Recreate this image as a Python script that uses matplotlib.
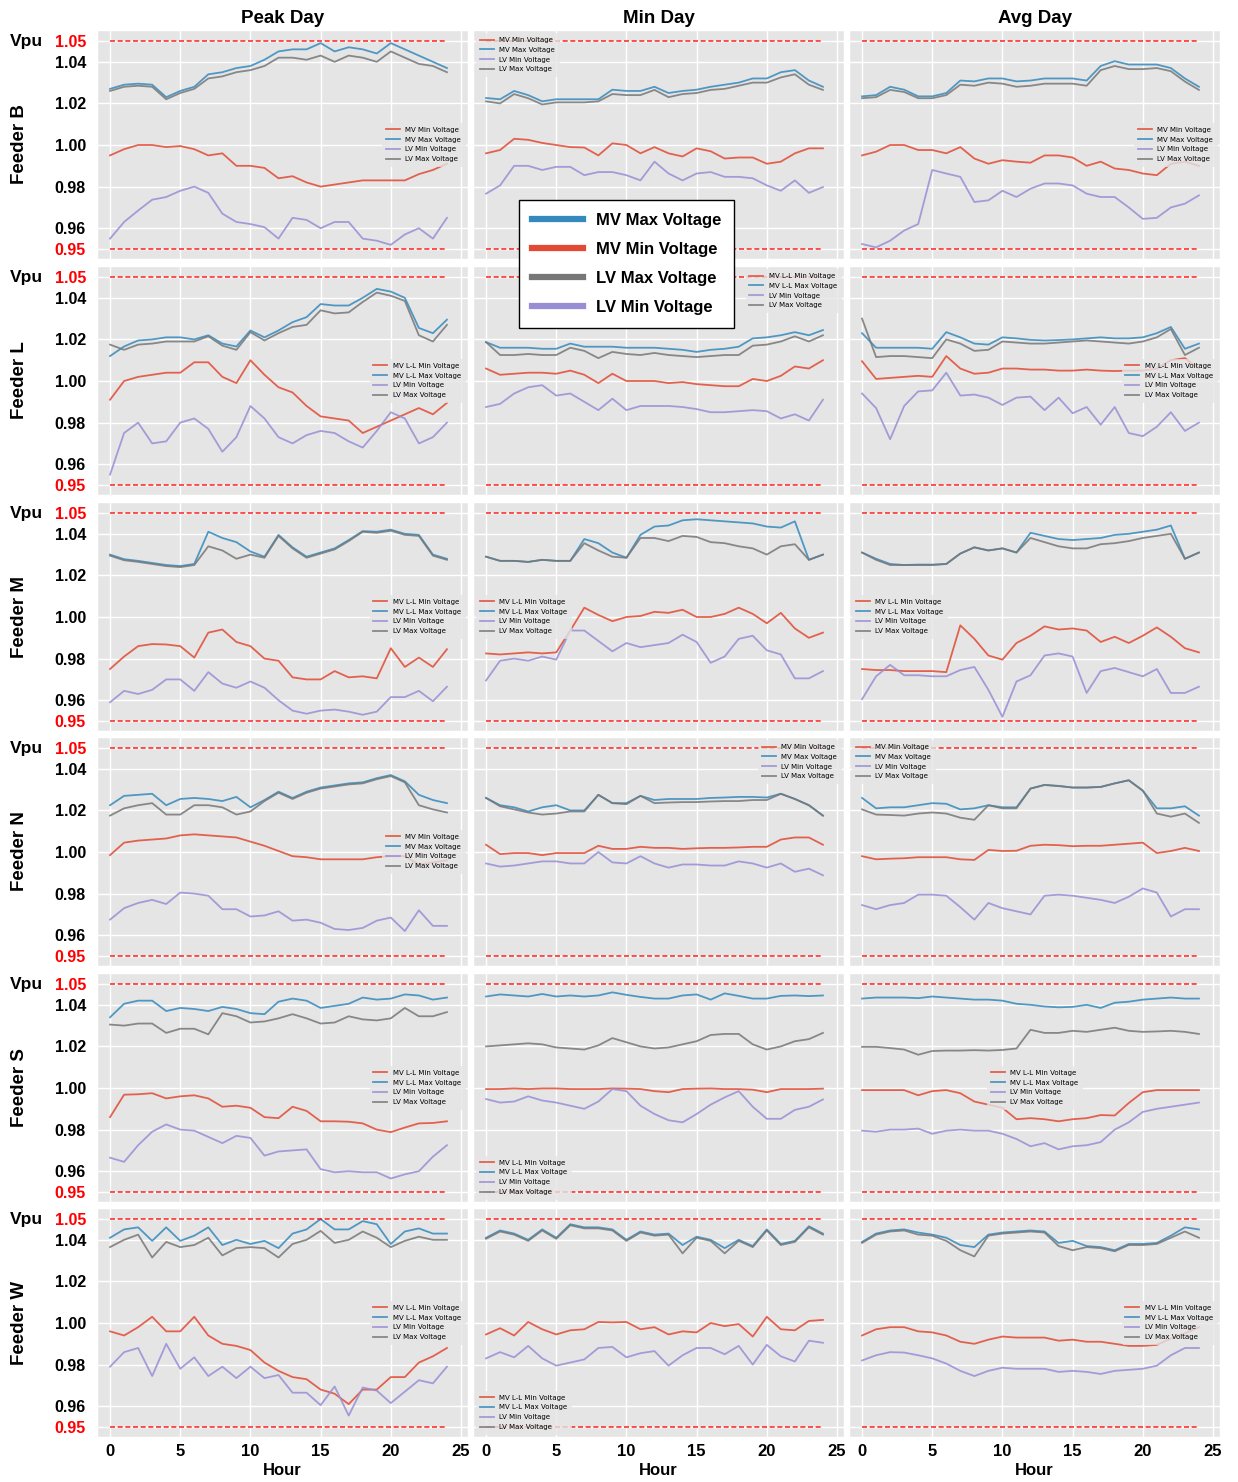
import numpy as np
import matplotlib
matplotlib.use('Agg')
import matplotlib.pyplot as plt
import matplotlib.transforms as mtransforms
from matplotlib.lines import Line2D

plt.style.use('ggplot')
plt.rcParams['font.family'] = ['Liberation Sans', 'DejaVu Sans']

hours = np.arange(25)

# ---- Feeder B ----
B_PEAK_MV_MIN = [0.995, 0.998, 1.000, 1.000, 0.999, 0.9995, 0.998, 0.995, 0.996, 0.990, 0.990, 0.989, 0.984, 0.985, 0.982, 0.980, 0.981, 0.982, 0.983, 0.983, 0.983, 0.983, 0.986, 0.988, 0.991]
B_PEAK_MV_MAX = [1.027, 1.029, 1.0295, 1.029, 1.023, 1.026, 1.028, 1.034, 1.035, 1.037, 1.038, 1.041, 1.045, 1.046, 1.046, 1.049, 1.045, 1.047, 1.046, 1.044, 1.049, 1.046, 1.043, 1.040, 1.037]
B_PEAK_LV_MIN = [0.955, 0.963, 0.9685, 0.9737, 0.975, 0.978, 0.980, 0.977, 0.967, 0.963, 0.962, 0.9605, 0.955, 0.965, 0.964, 0.960, 0.963, 0.963, 0.955, 0.954, 0.952, 0.957, 0.960, 0.955, 0.965]
B_PEAK_LV_MAX = [1.026, 1.028, 1.0285, 1.028, 1.022, 1.025, 1.027, 1.032, 1.033, 1.035, 1.036, 1.038, 1.042, 1.042, 1.041, 1.043, 1.040, 1.043, 1.042, 1.040, 1.045, 1.042, 1.039, 1.038, 1.035]

B_MIN_MV_MIN = [0.996, 0.9976, 1.003, 1.0025, 1.001, 1.000, 0.999, 0.9988, 0.995, 1.0008, 1.000, 0.996, 0.999, 0.996, 0.9945, 0.9984, 0.997, 0.9935, 0.994, 0.994, 0.991, 0.992, 0.996, 0.9984, 0.9984]
B_MIN_MV_MAX = [1.0226, 1.022, 1.026, 1.024, 1.021, 1.022, 1.022, 1.022, 1.022, 1.0266, 1.026, 1.026, 1.028, 1.025, 1.026, 1.0266, 1.028, 1.029, 1.030, 1.032, 1.032, 1.035, 1.036, 1.031, 1.028]
B_MIN_LV_MIN = [0.9766, 0.9806, 0.990, 0.990, 0.988, 0.9895, 0.9895, 0.9855, 0.987, 0.987, 0.9855, 0.983, 0.992, 0.9863, 0.983, 0.9863, 0.987, 0.9847, 0.9847, 0.984, 0.9806, 0.978, 0.983, 0.977, 0.9798]
B_MIN_LV_MAX = [1.021, 1.020, 1.0245, 1.0225, 1.0195, 1.0205, 1.0205, 1.0205, 1.021, 1.0245, 1.024, 1.024, 1.0265, 1.023, 1.0245, 1.025, 1.0265, 1.027, 1.0285, 1.030, 1.030, 1.0325, 1.034, 1.029, 1.0265]

B_AVG_MV_MIN = [0.995, 0.9968, 1.000, 1.000, 0.9976, 0.9976, 0.996, 0.999, 0.9935, 0.991, 0.9927, 0.992, 0.9915, 0.995, 0.995, 0.994, 0.990, 0.992, 0.9887, 0.988, 0.9863, 0.9855, 0.991, 0.992, 0.990]
B_AVG_MV_MAX = [1.0234, 1.024, 1.028, 1.0266, 1.0234, 1.0234, 1.025, 1.031, 1.0306, 1.032, 1.032, 1.0306, 1.031, 1.032, 1.032, 1.032, 1.031, 1.038, 1.0403, 1.0387, 1.0387, 1.0387, 1.037, 1.032, 1.028]
B_AVG_LV_MIN = [0.9524, 0.9508, 0.954, 0.9589, 0.962, 0.988, 0.9863, 0.9847, 0.9726, 0.9734, 0.978, 0.975, 0.979, 0.9815, 0.9815, 0.9806, 0.9766, 0.975, 0.975, 0.970, 0.9645, 0.965, 0.970, 0.9718, 0.9758]
B_AVG_LV_MAX = [1.0225, 1.023, 1.0265, 1.0255, 1.0225, 1.0225, 1.024, 1.029, 1.0285, 1.030, 1.0295, 1.028, 1.0285, 1.0295, 1.0295, 1.0295, 1.0285, 1.036, 1.038, 1.0365, 1.0365, 1.037, 1.0355, 1.0305, 1.0265]

# ---- Feeder L ----
L_PEAK_MV_MIN = [0.991, 1.000, 1.002, 1.003, 1.004, 1.004, 1.009, 1.009, 1.002, 0.999, 1.010, 1.003, 0.997, 0.9945, 0.988, 0.983, 0.982, 0.981, 0.975, 0.978, 0.981, 0.984, 0.987, 0.984, 0.9895]
L_PEAK_MV_MAX = [1.012, 1.0166, 1.0195, 1.020, 1.021, 1.021, 1.020, 1.022, 1.018, 1.0166, 1.0243, 1.021, 1.0243, 1.0283, 1.0307, 1.037, 1.0363, 1.0363, 1.040, 1.0443, 1.043, 1.040, 1.0255, 1.023, 1.0295]
L_PEAK_LV_MIN = [0.955, 0.975, 0.980, 0.970, 0.971, 0.980, 0.982, 0.977, 0.966, 0.973, 0.988, 0.982, 0.973, 0.970, 0.974, 0.976, 0.975, 0.971, 0.968, 0.976, 0.985, 0.982, 0.970, 0.973, 0.980]
L_PEAK_LV_MAX = [1.0175, 1.015, 1.0175, 1.018, 1.019, 1.019, 1.019, 1.0215, 1.017, 1.015, 1.0235, 1.0195, 1.023, 1.026, 1.027, 1.034, 1.0325, 1.033, 1.038, 1.0425, 1.041, 1.0385, 1.022, 1.019, 1.027]

L_MIN_MV_MIN = [1.006, 1.003, 1.0035, 1.004, 1.004, 1.0035, 1.005, 1.003, 0.999, 1.0035, 1.000, 1.000, 1.000, 0.999, 0.9995, 0.9985, 0.998, 0.9975, 0.9975, 1.001, 1.000, 1.0025, 1.007, 1.006, 1.010]
L_MIN_MV_MAX = [1.0187, 1.016, 1.016, 1.016, 1.0155, 1.0155, 1.018, 1.0165, 1.0165, 1.0165, 1.016, 1.016, 1.016, 1.0155, 1.015, 1.014, 1.015, 1.0155, 1.0165, 1.0205, 1.021, 1.022, 1.0235, 1.022, 1.0245]
L_MIN_LV_MIN = [0.9875, 0.989, 0.994, 0.997, 0.998, 0.993, 0.994, 0.990, 0.986, 0.9915, 0.986, 0.988, 0.988, 0.988, 0.9875, 0.9865, 0.985, 0.985, 0.9855, 0.986, 0.9855, 0.982, 0.984, 0.981, 0.991]
L_MIN_LV_MAX = [1.0187, 1.0125, 1.0125, 1.013, 1.0125, 1.0125, 1.016, 1.0145, 1.011, 1.014, 1.013, 1.0125, 1.0135, 1.0125, 1.012, 1.0115, 1.012, 1.0125, 1.0125, 1.017, 1.0175, 1.019, 1.0215, 1.019, 1.022]

L_AVG_MV_MIN = [1.0095, 1.001, 1.0015, 1.002, 1.0025, 1.002, 1.012, 1.006, 1.0035, 1.004, 1.006, 1.006, 1.0055, 1.0055, 1.005, 1.005, 1.0055, 1.005, 1.0048, 1.005, 1.005, 1.006, 1.010, 1.011, 1.006]
L_AVG_MV_MAX = [1.023, 1.016, 1.016, 1.016, 1.016, 1.0155, 1.0235, 1.021, 1.018, 1.0175, 1.021, 1.0205, 1.0198, 1.0195, 1.0197, 1.020, 1.0205, 1.021, 1.0205, 1.0205, 1.021, 1.023, 1.026, 1.0155, 1.018]
L_AVG_LV_MIN = [0.994, 0.987, 0.972, 0.988, 0.995, 0.9955, 1.004, 0.993, 0.9935, 0.992, 0.9885, 0.992, 0.9925, 0.986, 0.992, 0.9845, 0.9875, 0.979, 0.9875, 0.975, 0.9735, 0.978, 0.985, 0.976, 0.980]
L_AVG_LV_MAX = [1.030, 1.0115, 1.012, 1.012, 1.0115, 1.011, 1.020, 1.018, 1.0145, 1.015, 1.019, 1.0185, 1.018, 1.018, 1.0185, 1.019, 1.0195, 1.019, 1.0185, 1.018, 1.019, 1.021, 1.025, 1.0125, 1.016]

# ---- Feeder M ----
M_PEAK_MV_MIN = [0.975, 0.981, 0.986, 0.987, 0.9868, 0.986, 0.9805, 0.9925, 0.994, 0.988, 0.986, 0.980, 0.979, 0.971, 0.970, 0.970, 0.974, 0.971, 0.9715, 0.9705, 0.985, 0.976, 0.9805, 0.976, 0.9845]
M_PEAK_MV_MAX = [1.030, 1.0278, 1.027, 1.026, 1.025, 1.0245, 1.0255, 1.041, 1.038, 1.036, 1.0315, 1.029, 1.0395, 1.0335, 1.029, 1.031, 1.033, 1.037, 1.0413, 1.041, 1.042, 1.040, 1.0395, 1.030, 1.028]
M_PEAK_LV_MIN = [0.959, 0.9645, 0.963, 0.965, 0.970, 0.970, 0.9645, 0.9735, 0.968, 0.966, 0.969, 0.966, 0.960, 0.955, 0.9535, 0.955, 0.9555, 0.9545, 0.953, 0.9545, 0.9615, 0.9615, 0.9645, 0.9595, 0.9665]
M_PEAK_LV_MAX = [1.0295, 1.0273, 1.0265, 1.0255, 1.0245, 1.024, 1.025, 1.034, 1.032, 1.028, 1.030, 1.0285, 1.039, 1.033, 1.0285, 1.0305, 1.0325, 1.0365, 1.041, 1.0405, 1.0415, 1.0395, 1.039, 1.0295, 1.0275]

M_MIN_MV_MIN = [0.9825, 0.982, 0.9825, 0.983, 0.9825, 0.983, 0.9935, 1.0045, 1.001, 0.998, 1.000, 1.0005, 1.0025, 1.002, 1.0035, 1.000, 1.000, 1.0015, 1.0045, 1.0015, 0.997, 1.002, 0.9945, 0.990, 0.9925]
M_MIN_MV_MAX = [1.029, 1.027, 1.027, 1.0265, 1.0275, 1.027, 1.027, 1.0375, 1.0355, 1.031, 1.0285, 1.0395, 1.0435, 1.044, 1.0465, 1.047, 1.0465, 1.046, 1.0455, 1.045, 1.0435, 1.043, 1.046, 1.0275, 1.030]
M_MIN_LV_MIN = [0.9695, 0.979, 0.980, 0.979, 0.981, 0.9795, 0.9935, 0.9935, 0.9885, 0.9835, 0.9875, 0.9855, 0.9865, 0.9875, 0.9915, 0.988, 0.978, 0.981, 0.9895, 0.991, 0.984, 0.982, 0.9705, 0.9705, 0.974]
M_MIN_LV_MAX = [1.029, 1.027, 1.027, 1.0265, 1.0275, 1.027, 1.027, 1.0355, 1.032, 1.029, 1.0285, 1.038, 1.038, 1.0365, 1.039, 1.0385, 1.036, 1.0355, 1.034, 1.033, 1.030, 1.034, 1.035, 1.0275, 1.030]

M_AVG_MV_MIN = [0.975, 0.9745, 0.9745, 0.974, 0.974, 0.974, 0.9735, 0.996, 0.9895, 0.9815, 0.9795, 0.9875, 0.991, 0.9955, 0.994, 0.9945, 0.9935, 0.988, 0.9905, 0.9875, 0.991, 0.995, 0.9905, 0.985, 0.983]
M_AVG_MV_MAX = [1.031, 1.028, 1.0255, 1.025, 1.0252, 1.0252, 1.0255, 1.0305, 1.0335, 1.032, 1.033, 1.031, 1.0405, 1.039, 1.0375, 1.037, 1.0375, 1.038, 1.0395, 1.040, 1.041, 1.042, 1.044, 1.028, 1.031]
M_AVG_LV_MIN = [0.9605, 0.9715, 0.977, 0.972, 0.972, 0.9715, 0.9715, 0.9745, 0.976, 0.965, 0.952, 0.969, 0.972, 0.9815, 0.9825, 0.981, 0.9635, 0.974, 0.9755, 0.9735, 0.9715, 0.975, 0.9635, 0.9635, 0.9665]
M_AVG_LV_MAX = [1.031, 1.0275, 1.025, 1.025, 1.025, 1.025, 1.0255, 1.0305, 1.0335, 1.032, 1.033, 1.031, 1.038, 1.036, 1.034, 1.033, 1.033, 1.035, 1.0355, 1.0365, 1.038, 1.039, 1.040, 1.028, 1.031]

# ---- Feeder N ----
N_PEAK_MV_MIN = [0.9985, 1.0045, 1.0055, 1.006, 1.0065, 1.008, 1.0085, 1.008, 1.0075, 1.007, 1.005, 1.003, 1.0005, 0.998, 0.9975, 0.9965, 0.9965, 0.9965, 0.9965, 0.9975, 0.998, 0.998, 0.994, 0.995, 0.996]
N_PEAK_MV_MAX = [1.0225, 1.027, 1.0275, 1.028, 1.0225, 1.0255, 1.026, 1.0255, 1.0245, 1.0265, 1.0215, 1.025, 1.029, 1.026, 1.029, 1.031, 1.032, 1.033, 1.0335, 1.0355, 1.037, 1.034, 1.0275, 1.025, 1.0235]
N_PEAK_LV_MIN = [0.9675, 0.973, 0.9755, 0.977, 0.975, 0.9805, 0.980, 0.979, 0.9725, 0.9725, 0.969, 0.9695, 0.9715, 0.967, 0.9675, 0.966, 0.963, 0.9625, 0.9635, 0.967, 0.9685, 0.962, 0.972, 0.9645, 0.9645]
N_PEAK_LV_MAX = [1.0175, 1.021, 1.0225, 1.0235, 1.018, 1.018, 1.0225, 1.0225, 1.0215, 1.018, 1.0195, 1.0245, 1.0285, 1.0255, 1.0285, 1.0305, 1.0315, 1.0325, 1.033, 1.035, 1.0365, 1.0335, 1.0225, 1.0205, 1.019]

N_MIN_MV_MIN = [1.0035, 0.999, 0.9995, 0.9995, 0.9985, 0.9995, 0.9995, 0.9995, 1.003, 1.0015, 1.0015, 1.0025, 1.002, 1.002, 1.0015, 1.0018, 1.002, 1.002, 1.0022, 1.0025, 1.0025, 1.006, 1.007, 1.007, 1.0035]
N_MIN_MV_MAX = [1.026, 1.0225, 1.0215, 1.0195, 1.0215, 1.0225, 1.020, 1.020, 1.0275, 1.0235, 1.0235, 1.027, 1.025, 1.0255, 1.0255, 1.0255, 1.026, 1.0262, 1.0265, 1.0265, 1.0262, 1.028, 1.0255, 1.0225, 1.0175]
N_MIN_LV_MIN = [0.9945, 0.993, 0.9935, 0.9945, 0.9955, 0.9955, 0.9945, 0.9945, 1.000, 0.995, 0.9945, 0.998, 0.9945, 0.9925, 0.994, 0.994, 0.9935, 0.9935, 0.9955, 0.9945, 0.9925, 0.9945, 0.9905, 0.992, 0.9888]
N_MIN_LV_MAX = [1.026, 1.022, 1.0205, 1.019, 1.018, 1.0185, 1.0195, 1.0195, 1.0275, 1.0235, 1.023, 1.027, 1.0235, 1.0238, 1.024, 1.024, 1.0243, 1.0245, 1.0245, 1.025, 1.025, 1.028, 1.0255, 1.0225, 1.0175]

N_AVG_MV_MIN = [0.998, 0.9965, 0.9968, 0.997, 0.9975, 0.9975, 0.9975, 0.9965, 0.9962, 1.001, 1.0005, 1.0006, 1.003, 1.0035, 1.0033, 1.0028, 1.003, 1.003, 1.0035, 1.004, 1.0045, 0.9995, 1.0005, 1.002, 1.0005]
N_AVG_MV_MAX = [1.026, 1.021, 1.0215, 1.0215, 1.0225, 1.0235, 1.0232, 1.0205, 1.021, 1.0225, 1.0215, 1.0215, 1.0305, 1.0323, 1.0318, 1.031, 1.031, 1.0313, 1.033, 1.0345, 1.0295, 1.021, 1.021, 1.022, 1.0175]
N_AVG_LV_MIN = [0.9745, 0.9725, 0.9745, 0.9755, 0.9795, 0.9795, 0.979, 0.9735, 0.9675, 0.9755, 0.973, 0.9715, 0.970, 0.979, 0.9795, 0.979, 0.978, 0.977, 0.9755, 0.9785, 0.9825, 0.9805, 0.969, 0.9725, 0.9725]
N_AVG_LV_MAX = [1.0205, 1.018, 1.0178, 1.0175, 1.0185, 1.019, 1.0185, 1.0165, 1.0155, 1.0225, 1.021, 1.021, 1.0305, 1.0322, 1.0317, 1.031, 1.031, 1.0313, 1.033, 1.0345, 1.0295, 1.0185, 1.017, 1.0185, 1.014]

# ---- Feeder S ----
S_PEAK_MV_MIN = [0.986, 0.9968, 0.997, 0.9975, 0.995, 0.996, 0.9965, 0.995, 0.991, 0.9915, 0.9905, 0.986, 0.9855, 0.991, 0.989, 0.984, 0.984, 0.9838, 0.983, 0.980, 0.9788, 0.981, 0.983, 0.9832, 0.984]
S_PEAK_MV_MAX = [1.034, 1.0405, 1.042, 1.042, 1.037, 1.0385, 1.038, 1.037, 1.039, 1.038, 1.036, 1.0355, 1.0415, 1.043, 1.042, 1.0385, 1.0395, 1.0405, 1.0435, 1.0425, 1.043, 1.045, 1.0445, 1.0425, 1.0435]
S_PEAK_LV_MIN = [0.9665, 0.9645, 0.9725, 0.979, 0.9825, 0.980, 0.9795, 0.9765, 0.9735, 0.977, 0.976, 0.9675, 0.9695, 0.970, 0.9705, 0.961, 0.9595, 0.960, 0.9595, 0.9595, 0.9565, 0.9585, 0.960, 0.967, 0.9725]
S_PEAK_LV_MAX = [1.0305, 1.030, 1.031, 1.031, 1.0265, 1.0285, 1.0285, 1.0258, 1.036, 1.0345, 1.0315, 1.032, 1.0335, 1.0355, 1.0335, 1.031, 1.0315, 1.0345, 1.033, 1.0325, 1.0335, 1.0385, 1.0345, 1.0345, 1.0365]

S_MIN_MV_MIN = [0.9995, 0.9995, 0.9998, 0.9995, 0.9998, 0.9998, 0.9995, 0.9995, 0.9995, 0.9998, 0.9997, 0.9995, 0.9985, 0.998, 0.9995, 0.9997, 0.9998, 0.9995, 0.9995, 0.9992, 0.998, 0.9995, 0.9995, 0.9995, 0.9997]
S_MIN_MV_MAX = [1.044, 1.045, 1.0445, 1.044, 1.0452, 1.044, 1.0445, 1.044, 1.0445, 1.046, 1.0448, 1.0438, 1.043, 1.043, 1.0445, 1.045, 1.0425, 1.0455, 1.0443, 1.043, 1.043, 1.0443, 1.0445, 1.0442, 1.0445]
S_MIN_LV_MIN = [0.9947, 0.993, 0.9935, 0.996, 0.994, 0.993, 0.9915, 0.990, 0.9935, 0.9995, 0.9985, 0.9915, 0.9875, 0.9845, 0.9835, 0.9875, 0.992, 0.9955, 0.9985, 0.991, 0.9852, 0.9852, 0.9895, 0.991, 0.9945]
S_MIN_LV_MAX = [1.020, 1.0205, 1.021, 1.0215, 1.021, 1.0195, 1.019, 1.0185, 1.0205, 1.024, 1.022, 1.020, 1.019, 1.0195, 1.021, 1.0225, 1.0255, 1.026, 1.026, 1.021, 1.0185, 1.020, 1.0225, 1.0235, 1.0265]

S_AVG_MV_MIN = [0.999, 0.999, 0.999, 0.999, 0.9965, 0.9985, 0.999, 0.9975, 0.9935, 0.992, 0.9905, 0.985, 0.9855, 0.985, 0.984, 0.985, 0.9855, 0.987, 0.9868, 0.9928, 0.998, 0.999, 0.999, 0.999, 0.999]
S_AVG_MV_MAX = [1.043, 1.0435, 1.0435, 1.0435, 1.0432, 1.044, 1.0435, 1.043, 1.0425, 1.0425, 1.042, 1.0405, 1.040, 1.0392, 1.0388, 1.039, 1.040, 1.0385, 1.041, 1.0415, 1.0425, 1.043, 1.0435, 1.043, 1.043]
S_AVG_LV_MIN = [0.9795, 0.979, 0.980, 0.980, 0.9805, 0.978, 0.9795, 0.980, 0.9795, 0.9795, 0.978, 0.9755, 0.972, 0.9735, 0.9705, 0.972, 0.9725, 0.974, 0.980, 0.9835, 0.9885, 0.990, 0.991, 0.992, 0.993]
S_AVG_LV_MAX = [1.0198, 1.0198, 1.0192, 1.0185, 1.016, 1.0178, 1.018, 1.018, 1.0182, 1.018, 1.0183, 1.019, 1.028, 1.0265, 1.0265, 1.0275, 1.027, 1.028, 1.029, 1.0275, 1.027, 1.0272, 1.0275, 1.027, 1.026]

# ---- Feeder W ----
W_PEAK_MV_MIN = [0.996, 0.994, 0.998, 1.003, 0.996, 0.996, 1.003, 0.994, 0.990, 0.989, 0.987, 0.981, 0.977, 0.974, 0.973, 0.968, 0.966, 0.961, 0.968, 0.968, 0.974, 0.974, 0.981, 0.984, 0.988]
W_PEAK_MV_MAX = [1.041, 1.045, 1.046, 1.0395, 1.046, 1.0395, 1.042, 1.046, 1.0375, 1.040, 1.038, 1.0395, 1.036, 1.043, 1.045, 1.050, 1.045, 1.045, 1.049, 1.0475, 1.038, 1.044, 1.0455, 1.043, 1.043]
W_PEAK_LV_MIN = [0.979, 0.986, 0.988, 0.9745, 0.990, 0.978, 0.9835, 0.9745, 0.979, 0.9735, 0.979, 0.9735, 0.975, 0.9665, 0.9665, 0.9605, 0.9695, 0.9555, 0.969, 0.9675, 0.9615, 0.967, 0.9725, 0.971, 0.979]
W_PEAK_LV_MAX = [1.0365, 1.040, 1.0425, 1.0315, 1.039, 1.0365, 1.0375, 1.041, 1.0325, 1.036, 1.0365, 1.036, 1.0315, 1.038, 1.040, 1.0443, 1.0385, 1.040, 1.044, 1.041, 1.0365, 1.0395, 1.0415, 1.040, 1.040]

W_MIN_MV_MIN = [0.9945, 0.9975, 0.994, 1.0005, 0.997, 0.9945, 0.9965, 0.997, 1.0005, 1.0003, 1.0005, 0.997, 0.998, 0.9945, 0.996, 0.9955, 1.000, 0.9985, 0.9995, 0.9935, 1.003, 0.997, 0.9965, 1.001, 1.0015]
W_MIN_MV_MAX = [1.041, 1.0445, 1.043, 1.040, 1.045, 1.041, 1.0475, 1.046, 1.046, 1.045, 1.040, 1.044, 1.0425, 1.043, 1.0375, 1.0415, 1.040, 1.036, 1.040, 1.037, 1.045, 1.038, 1.0395, 1.0465, 1.043]
W_MIN_LV_MIN = [0.983, 0.986, 0.9835, 0.989, 0.983, 0.9795, 0.981, 0.9825, 0.988, 0.9885, 0.9835, 0.9855, 0.9865, 0.9795, 0.9845, 0.988, 0.988, 0.985, 0.989, 0.980, 0.9895, 0.984, 0.9815, 0.9915, 0.9905]
W_MIN_LV_MAX = [1.0405, 1.044, 1.0425, 1.0395, 1.0445, 1.0405, 1.047, 1.0455, 1.0455, 1.0445, 1.0395, 1.0435, 1.042, 1.0425, 1.0335, 1.041, 1.0395, 1.0335, 1.0395, 1.0365, 1.0445, 1.0375, 1.039, 1.046, 1.0425]

W_AVG_MV_MIN = [0.994, 0.997, 0.998, 0.998, 0.996, 0.9955, 0.994, 0.991, 0.990, 0.992, 0.9935, 0.993, 0.993, 0.993, 0.9915, 0.992, 0.991, 0.991, 0.990, 0.989, 0.989, 0.9895, 0.9925, 0.995, 0.998]
W_AVG_MV_MAX = [1.039, 1.043, 1.0445, 1.045, 1.0435, 1.0425, 1.041, 1.0375, 1.0365, 1.0425, 1.0435, 1.044, 1.0445, 1.044, 1.0385, 1.0395, 1.037, 1.0365, 1.035, 1.038, 1.038, 1.0385, 1.042, 1.046, 1.045]
W_AVG_LV_MIN = [0.982, 0.9845, 0.986, 0.9858, 0.9845, 0.983, 0.9805, 0.977, 0.9745, 0.977, 0.9785, 0.978, 0.978, 0.978, 0.9765, 0.977, 0.9765, 0.9755, 0.977, 0.9775, 0.978, 0.9795, 0.9845, 0.988, 0.988]
W_AVG_LV_MAX = [1.0385, 1.0425, 1.044, 1.0445, 1.0425, 1.042, 1.0395, 1.035, 1.032, 1.042, 1.043, 1.0435, 1.044, 1.0435, 1.037, 1.035, 1.0365, 1.036, 1.0345, 1.0375, 1.0375, 1.038, 1.041, 1.044, 1.041]

feeders = ['B', 'L', 'M', 'N', 'S', 'W']
days = ['Peak Day', 'Min Day', 'Avg Day']

panels = {
    ('B', 0): (B_PEAK_MV_MIN, B_PEAK_MV_MAX, B_PEAK_LV_MIN, B_PEAK_LV_MAX),
    ('B', 1): (B_MIN_MV_MIN, B_MIN_MV_MAX, B_MIN_LV_MIN, B_MIN_LV_MAX),
    ('B', 2): (B_AVG_MV_MIN, B_AVG_MV_MAX, B_AVG_LV_MIN, B_AVG_LV_MAX),
    ('L', 0): (L_PEAK_MV_MIN, L_PEAK_MV_MAX, L_PEAK_LV_MIN, L_PEAK_LV_MAX),
    ('L', 1): (L_MIN_MV_MIN, L_MIN_MV_MAX, L_MIN_LV_MIN, L_MIN_LV_MAX),
    ('L', 2): (L_AVG_MV_MIN, L_AVG_MV_MAX, L_AVG_LV_MIN, L_AVG_LV_MAX),
    ('M', 0): (M_PEAK_MV_MIN, M_PEAK_MV_MAX, M_PEAK_LV_MIN, M_PEAK_LV_MAX),
    ('M', 1): (M_MIN_MV_MIN, M_MIN_MV_MAX, M_MIN_LV_MIN, M_MIN_LV_MAX),
    ('M', 2): (M_AVG_MV_MIN, M_AVG_MV_MAX, M_AVG_LV_MIN, M_AVG_LV_MAX),
    ('N', 0): (N_PEAK_MV_MIN, N_PEAK_MV_MAX, N_PEAK_LV_MIN, N_PEAK_LV_MAX),
    ('N', 1): (N_MIN_MV_MIN, N_MIN_MV_MAX, N_MIN_LV_MIN, N_MIN_LV_MAX),
    ('N', 2): (N_AVG_MV_MIN, N_AVG_MV_MAX, N_AVG_LV_MIN, N_AVG_LV_MAX),
    ('S', 0): (S_PEAK_MV_MIN, S_PEAK_MV_MAX, S_PEAK_LV_MIN, S_PEAK_LV_MAX),
    ('S', 1): (S_MIN_MV_MIN, S_MIN_MV_MAX, S_MIN_LV_MIN, S_MIN_LV_MAX),
    ('S', 2): (S_AVG_MV_MIN, S_AVG_MV_MAX, S_AVG_LV_MIN, S_AVG_LV_MAX),
    ('W', 0): (W_PEAK_MV_MIN, W_PEAK_MV_MAX, W_PEAK_LV_MIN, W_PEAK_LV_MAX),
    ('W', 1): (W_MIN_MV_MIN, W_MIN_MV_MAX, W_MIN_LV_MIN, W_MIN_LV_MAX),
    ('W', 2): (W_AVG_MV_MIN, W_AVG_MV_MAX, W_AVG_LV_MIN, W_AVG_LV_MAX),
}

short_labels = ['MV Min Voltage', 'MV Max Voltage', 'LV Min Voltage', 'LV Max Voltage']
ll_labels = ['MV L-L Min Voltage', 'MV L-L Max Voltage', 'LV Min Voltage', 'LV Max Voltage']
label_sets = {'B': short_labels, 'L': ll_labels, 'M': ll_labels,
              'N': short_labels, 'S': ll_labels, 'W': ll_labels}
legend_locs = {
    'B': ['center right', 'upper left', 'center right'],
    'L': ['center right', 'upper right', 'center right'],
    'M': ['center right', 'center left', 'center left'],
    'N': ['center right', 'upper right', 'upper left'],
    'S': ['center right', 'lower left', 'center'],
    'W': ['center right', 'lower left', 'center right'],
}
colors = ['#E24A33', '#348ABD', '#988ED5', '#777777']
yticks = [0.95, 0.96, 0.98, 1.00, 1.02, 1.04, 1.05]

W, H = 1238, 1482
fig = plt.figure(figsize=(W / 100, H / 100), dpi=100)
fig.patch.set_facecolor('white')

col_left = [97, 473, 849]
row_top = [30, 266, 502, 737, 973, 1208]
ax_w, ax_h = 371, 229

for r, fd in enumerate(feeders):
    for c in range(3):
        ax = fig.add_axes([col_left[c] / W, 1 - (row_top[r] + ax_h) / H, ax_w / W, ax_h / H])
        series = panels[(fd, c)]
        for vals, col, lab in zip(series, colors, label_sets[fd]):
            ax.plot(hours, vals, color=col, lw=1.3, alpha=0.85, label=lab)
        ax.hlines([0.95, 1.05], 0, 24, colors='red', linestyles=(0, (3, 1.6)), lw=1.2, alpha=0.8)
        ax.set_xlim(-0.93, 25.5)
        ax.set_ylim(0.9452, 1.0553)
        ax.set_xticks([0, 5, 10, 15, 20, 25])
        ax.set_yticks(yticks)
        ygl = ax.get_ygridlines()
        ygl[0].set_visible(False)
        ygl[-1].set_visible(False)
        ax.grid(True, color='white', lw=1)
        ax.tick_params(length=0, pad=6)
        ax.legend(loc=legend_locs[fd][c], prop={'family': 'DejaVu Sans', 'size': 5},
                  framealpha=0.8, facecolor='#E5E5E5', edgecolor='#E5E5E5',
                  borderpad=0.5, labelspacing=0.55)
        if c == 0:
            ax.set_yticklabels(['%.2f' % t for t in yticks], fontsize=11.5,
                               fontweight='bold', color='black')
            tl = ax.get_yticklabels()
            tl[0].set_color('red')
            tl[-1].set_color('red')
            ax.tick_params(axis='y', pad=8)
            trans = mtransforms.blended_transform_factory(ax.transAxes, ax.transData)
            ax.text(-0.189, 1.05, 'Vpu', transform=trans, ha='center', va='center',
                    fontsize=12.5, fontweight='bold', color='black')
            ax.text(-0.208, 0.5, 'Feeder ' + fd, transform=ax.transAxes, rotation=90,
                    ha='center', va='center', fontsize=13.5, fontweight='bold', color='black')
        else:
            ax.set_yticklabels([])
        if r == len(feeders) - 1:
            ax.set_xticklabels(['0', '5', '10', '15', '20', '25'], fontsize=12,
                               fontweight='bold', color='black')
            ax.tick_params(axis='x', pad=5)
            ax.set_xlabel('Hour', fontsize=12, fontweight='bold', color='black', labelpad=3)
        else:
            ax.set_xticklabels([])
        if r == 0:
            ax.set_title(days[c], fontsize=13.5, fontweight='bold', color='black', pad=5)

big_handles = [Line2D([0], [0], color=colors[1], lw=4.5),
               Line2D([0], [0], color=colors[0], lw=4.5),
               Line2D([0], [0], color=colors[3], lw=4.5),
               Line2D([0], [0], color=colors[2], lw=4.5)]
big_labels = ['MV Max Voltage', 'MV Min Voltage', 'LV Max Voltage', 'LV Min Voltage']
leg = fig.legend(big_handles, big_labels, loc='upper left',
                 bbox_to_anchor=(519 / W, 1 - 200 / H), borderaxespad=0,
                 prop={'family': 'Liberation Sans', 'weight': 'bold', 'size': 12},
                 frameon=True, fancybox=False, framealpha=1, facecolor='white',
                 edgecolor='black', handlelength=3.1, handletextpad=0.8,
                 labelspacing=0.85, borderpad=0.75)
leg.get_frame().set_linewidth(1.0)
leg.set_zorder(10)

fig.savefig('out.png', dpi=100)
